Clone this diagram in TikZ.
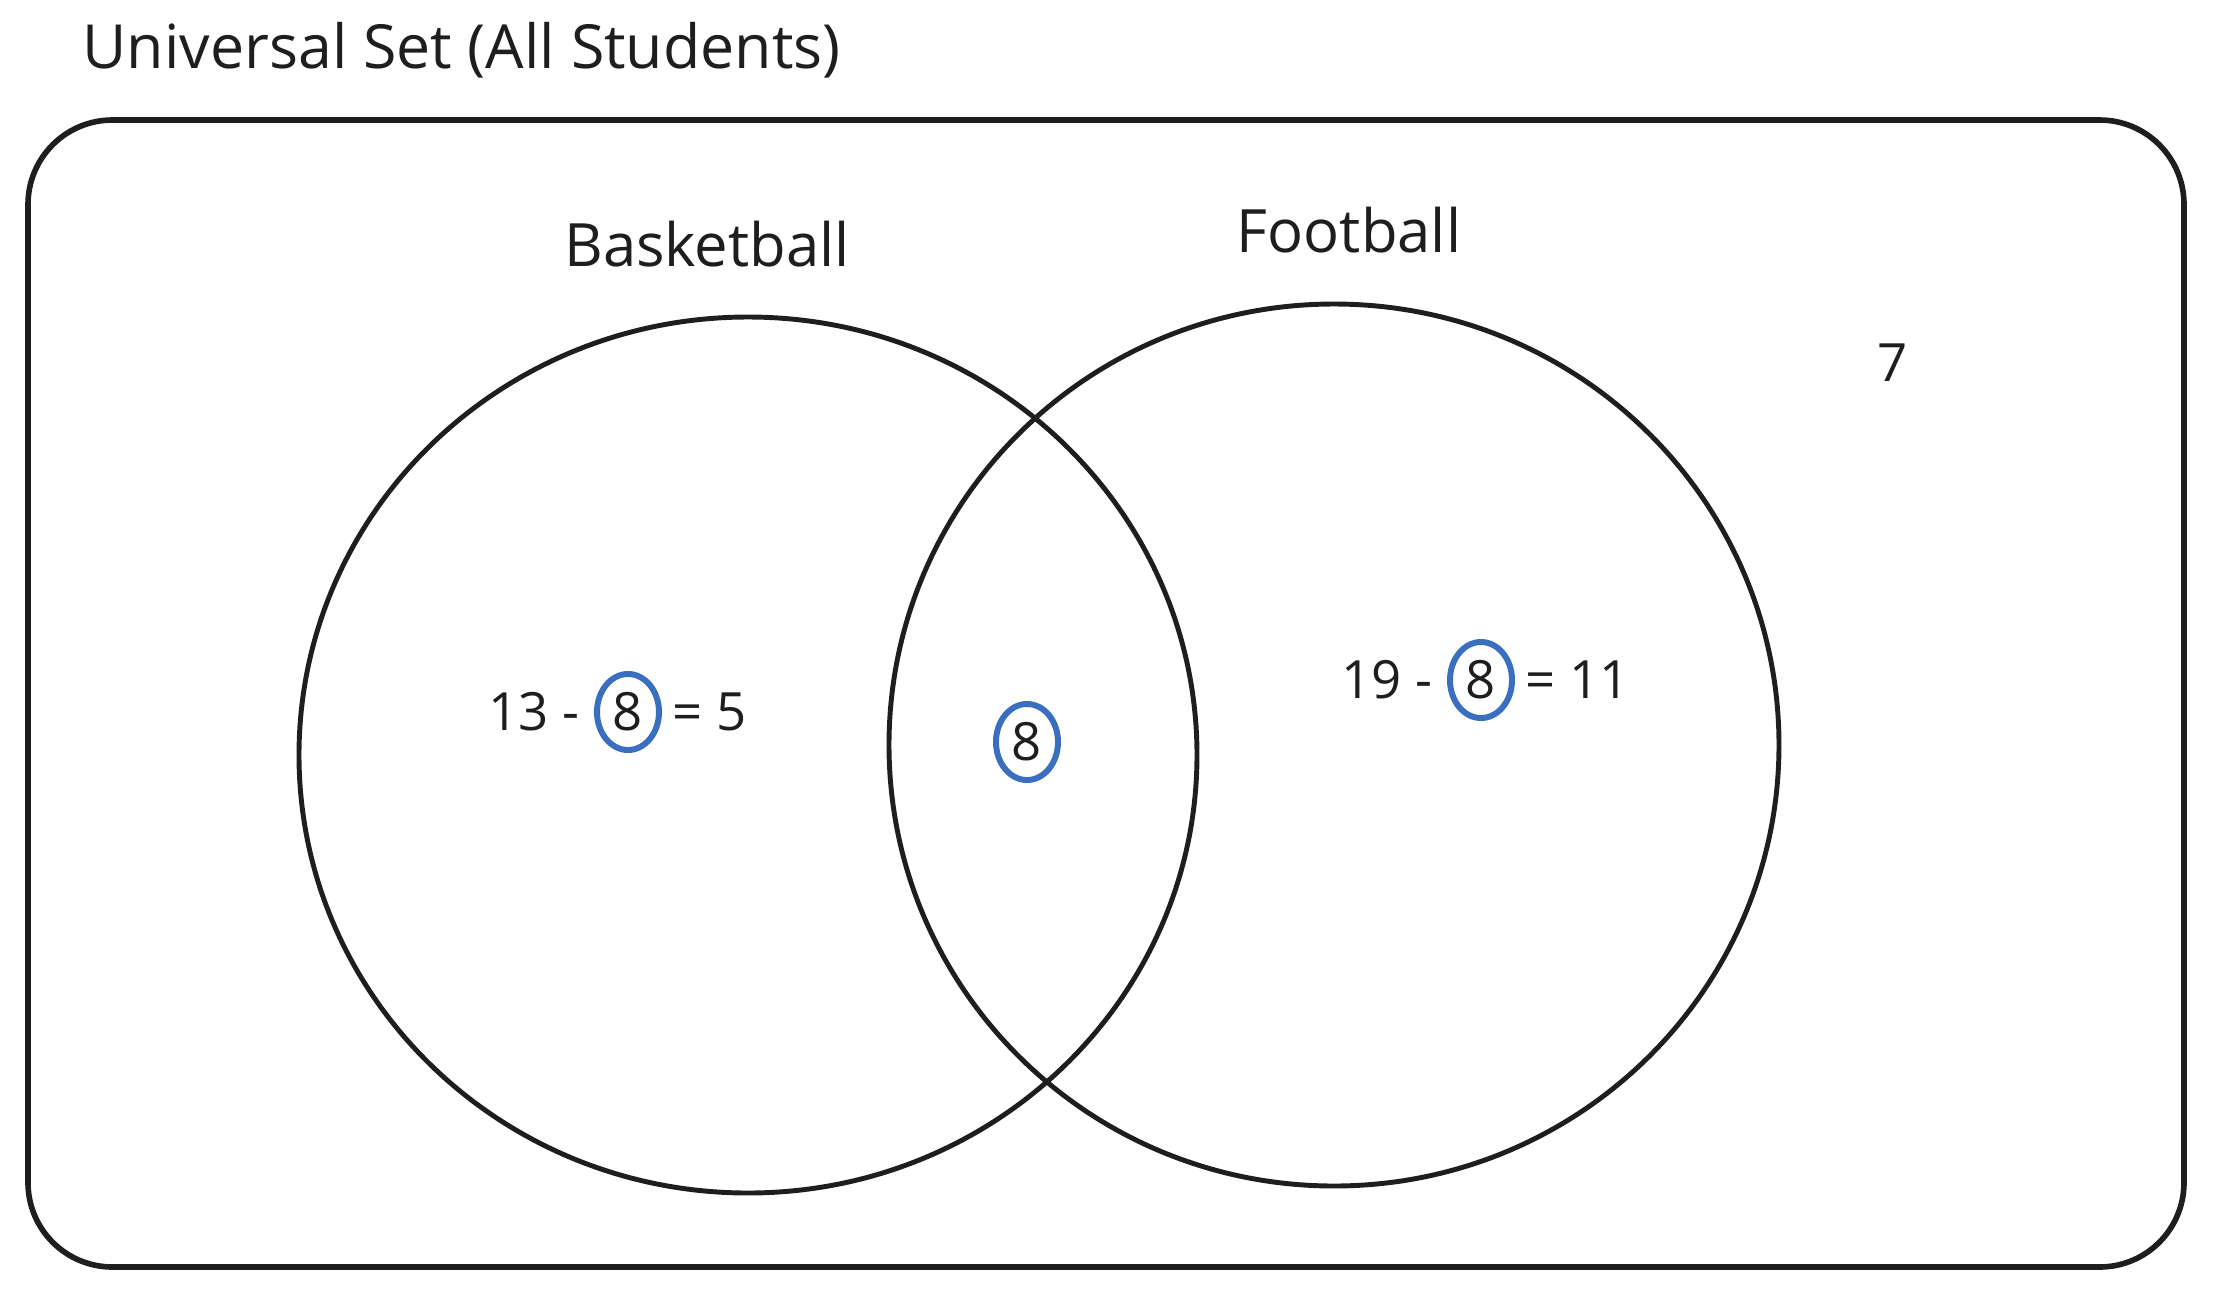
\documentclass[tikz,border=0pt]{standalone}
\usepackage{fontspec}
\setmainfont{Open Sans}
\usetikzlibrary{positioning,shapes.geometric}
\definecolor{penblack}{HTML}{1E1E1E}
\definecolor{penblue}{HTML}{3A6FC0}
\begin{document}
\begin{tikzpicture}[x=0.01cm,y=-0.01cm,line join=round,line cap=round,
		pen/.style={draw=penblack,line width=1.4pt},
		lbl/.style={text=penblack,inner sep=0pt,font=\fontsize{17}{20}\selectfont},
		num/.style={text=penblack,inner sep=0pt,font=\fontsize{15}{18}\selectfont},
		ring/.style={num,ellipse,draw=penblue,line width=1.7pt,minimum width=0.62cm,minimum height=0.76cm}]
			\useasboundingbox (0,0) rectangle (2214,1308);
			\draw[pen,line width=1.6pt,rounded corners=24pt] (28,120) rectangle (2184,1267);
			\draw[pen] (748,755) ellipse [x radius=449,y radius=438];
			\draw[pen] (1334,745) ellipse [x radius=445,y radius=441];
			\node[lbl,anchor=west,font=\fontsize{17.3}{20}\selectfont] (univ) at (82,50) {Universal Set (All Students)};
			\node[lbl] (basket) at (707,244) {Basketball};
			\node[lbl] (foot) at (1349,230) {Football};
			\node[ring] (bring) at (628,712) {8};
			\node[num,left=0.14cm of bring] (bleft) {13 -};
			\node[num,right=0.1cm of bring] (bright) {= 5};
			\node[ring] (both) at (1027,742) {8};
			\node[ring] (fring) at (1481,680) {8};
			\node[num,left=0.14cm of fring] (fleft) {19 -};
			\node[num,right=0.1cm of fring] (fright) {= 11};
			\node[num] (none) at (1893,363) {7};
		\end{tikzpicture}
\end{document}
